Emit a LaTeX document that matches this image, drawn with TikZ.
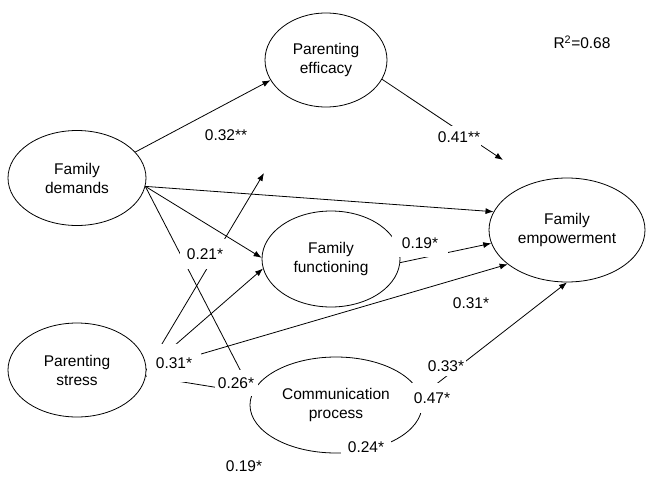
\documentclass[tikz,border=0pt]{standalone}
\usepackage{fontspec}
\setmainfont{Liberation Sans}
\usetikzlibrary{shapes.geometric,arrows.meta}

\begin{document}
\begin{tikzpicture}[x=1pt,y=-1pt,
    font=\fontsize{15.5}{19}\selectfont,
    factor/.style={ellipse, draw, line width=0.8pt, align=center, inner sep=0pt},
    coef/.style={fill=white, inner sep=0pt},
    arr/.style={line width=0.8pt, -{Latex[length=8pt,width=6pt]}}]
    \useasboundingbox (0,0) rectangle (647,476);

    % Latent variables
    \node[factor, minimum width=122, minimum height=94] (eff) at (326,60) {Parenting\\efficacy};
    \node[factor, minimum width=138, minimum height=95] (dem) at (77,178) {Family\\demands};
    \node[factor, minimum width=138, minimum height=94] (ps) at (77,370) {Parenting\\stress};
    \node[factor, minimum width=138, minimum height=96] (fun) at (331,259) {Family\\functioning};
    \node[factor, minimum width=172, minimum height=96] (com) at (336,405) {Communication\\process};
    \node[factor, minimum width=156, minimum height=104] (emp) at (567,230) {Family\\empowerment};
    \node (r2) at (582,42) {R\textsuperscript{2}=0.68};

    % Free arrow ends
    \coordinate (effend) at (503,160);
    \coordinate (psend) at (264,173);

    % Paths
    \draw[arr] (dem.24) -- (eff.200);
    \draw[arr] (eff.-19) -- (effend);
    \draw[arr] (dem.-7) -- (emp.166);
    \draw[arr] (dem.-7) -- (fun.179);
    \draw[arr] (dem.-7) -- (com.172);
    \draw[arr] (ps.east) -- (psend);
    \draw[arr] (ps.east) -- (fun.188);
    \draw[arr] (ps.east) -- (emp.210);
    \draw[arr] (ps.-5) -- (com.172);
    \draw[arr] (fun.-3) -- (emp.190);
    \draw[arr] (com.6) -- (emp.south);

    % Coefficients (white boxes break the lines)
    \foreach \n/\x/\y/\w/\h/\txt in {
        a/226/135/0/0/0.32**, b/459/137/44/22/0.41**, c/205/254/50/30/0.21*,
        d/420/243/56/28/0.19*, e/471/303/0/0/0.31*, f/174/363/54/38/0.31*,
        g/236/383/43/26/0.26*, h/446/366/40/20/0.33*, i/432/398/40/30/0.47*,
        j/366/447/50/24/0.24*, k/244/466/0/0/0.19*} {
        \node[coef, minimum width=\w, minimum height=\h] (c\n) at (\x,\y) {\txt};
    }
\end{tikzpicture}
\end{document}
